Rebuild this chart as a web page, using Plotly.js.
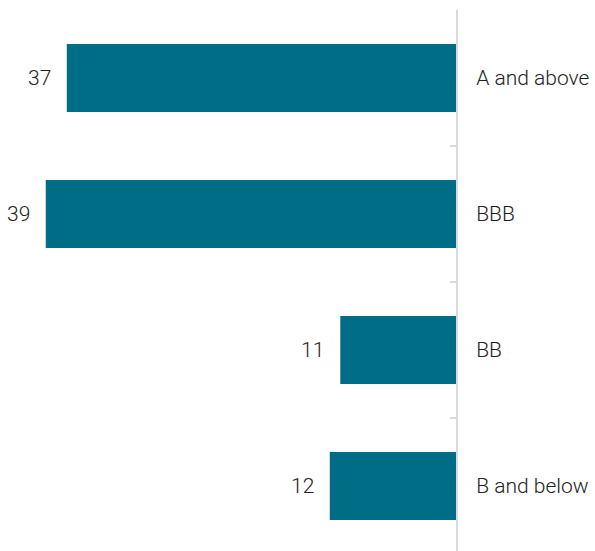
<!DOCTYPE html>
<html>
<head>
<meta charset="utf-8">
<script src="https://cdn.plot.ly/plotly-3.0.1.min.js"></script>
<style>html,body{margin:0;padding:0;background:#fff;}#chart{width:595px;height:551px;}</style>
</head>
<body>
<div id="chart"></div>
<script>
var categories = ["A and above", "BBB", "BB", "B and below"];
var values = [37, 39, 11, 12];
var valueLabels = ["37", "39", "11", "12"];

var barColor = "#006d87";
var textFont = {family: "Roboto, 'Liberation Sans', sans-serif", size: 21, weight: 300, color: "#222222"};

var trace = {
  type: "bar",
  orientation: "h",
  x: values,
  y: categories,
  marker: {color: barColor},
  hoverinfo: "none"
};

var annotations = categories.map(function (c, i) {
  return {
    x: values[i], y: c, xref: "x", yref: "y",
    text: valueLabels[i], showarrow: false,
    xanchor: "right", yanchor: "middle", xshift: -14,
    font: textFont
  };
});

var layout = {
  width: 595, height: 551,
  margin: {l: 0, r: 139, t: 10, b: 0},
  paper_bgcolor: "#ffffff", plot_bgcolor: "#ffffff",
  bargap: 0.5,
  showlegend: false,
  xaxis: {
    range: [43.35, 0],
    showgrid: false, zeroline: false, showticklabels: false,
    ticks: "", showline: false, fixedrange: true
  },
  yaxis: {
    type: "category",
    range: [3.478, -0.5],
    side: "right",
    showline: true, linecolor: "#d9d9d9", linewidth: 2,
    ticks: "inside", ticklen: 6, tickcolor: "#d9d9d9", tickwidth: 2,
    tickson: "boundaries",
    ticklabelstandoff: 14,
    showgrid: false, zeroline: false,
    tickfont: textFont, fixedrange: true
  },
  annotations: annotations
};

Plotly.newPlot("chart", [trace], layout, {displayModeBar: false, staticPlot: true});
</script>
</body>
</html>
